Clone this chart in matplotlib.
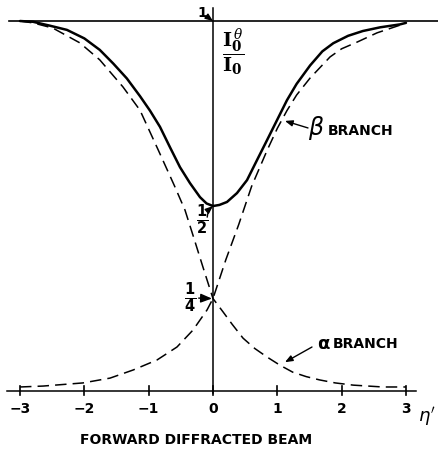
import matplotlib
matplotlib.use("Agg")
import matplotlib.pyplot as plt

# reduced angular deviation eta' and forward-diffracted intensity I0^theta / I0
# branch falling from left to right (upper left -> lower right)
falling_eta = [-3.0, -2.8, -2.49, -2.07, -1.76, -1.40, -1.135, -0.85, -0.6, -0.435,
               -0.3, -0.156, 0.0, 0.156, 0.3, 0.467, 0.65, 0.84, 1.04, 1.24, 1.45,
               1.66, 1.9, 2.18, 2.64, 3.0]
falling_val = [1.0, 0.995, 0.981, 0.941, 0.895, 0.822, 0.759, 0.651, 0.555, 0.489,
               0.415, 0.335, 0.25, 0.214, 0.18, 0.143, 0.115, 0.092, 0.07, 0.051, 0.039,
               0.030, 0.022, 0.016, 0.011, 0.011]

# branch rising from left to right (lower left -> upper right)
rising_eta = [-3.0, -2.64, -2.02, -1.60, -1.24, -0.87, -0.56, -0.31, -0.093, 0.0,
              0.2, 0.4, 0.6, 0.84, 1.0, 1.15, 1.3, 1.51, 1.82, 2.0, 2.24, 2.55,
              2.91, 3.0]
rising_val = [0.011, 0.0135, 0.022, 0.035, 0.057, 0.084, 0.119, 0.165, 0.219, 0.25,
              0.355, 0.45, 0.553, 0.65, 0.71, 0.758, 0.80, 0.846, 0.903, 0.925, 0.943,
              0.968, 0.989, 0.995]

# total forward intensity
total_eta = [-3.0, -2.8, -2.55, -2.27, -2.0, -1.76, -1.55, -1.34, -1.135, -0.98,
             -0.824, -0.669, -0.513, -0.358, -0.202, -0.1, 0.0, 0.1, 0.218, 0.373,
             0.529, 0.684, 0.84, 0.995, 1.15, 1.3, 1.51, 1.7, 1.87, 2.1, 2.33, 2.6,
             2.91, 3.0]
total_val = [1.0, 0.998, 0.988, 0.976, 0.953, 0.922, 0.885, 0.845, 0.797, 0.758,
             0.714, 0.659, 0.605, 0.562, 0.524, 0.507, 0.5, 0.503, 0.511, 0.535,
             0.570, 0.624, 0.678, 0.732, 0.786, 0.83, 0.880, 0.918, 0.940, 0.960,
             0.973, 0.983, 0.991, 0.995]

tick_pos = [-3, -2, -1, 0, 1, 2, 3]
tick_text = ["\u22123", "\u22122", "\u22121", "0", "1", "2", "3"]

fig = plt.figure(figsize=(4.38, 4.51), dpi=100)
ax = fig.add_axes([0, 0, 1, 1])
ax.set_xlim(-3.311, 3.498)
ax.set_ylim(-0.162, 1.0568)
ax.axis("off")

ink = "black"

# frame lines: base axis, unit line and the eta' = 0 axis
ax.plot([-3.2, 3.16], [0, 0], color=ink, lw=1.1)
ax.plot([-3.17, 3.5], [1, 1], color=ink, lw=1.2)
ax.plot([0, 0], [-0.005, 1.035], color=ink, lw=1.1)

for t, s in zip(tick_pos, tick_text):
    ax.plot([t, t], [-0.011, 0.013], color=ink, lw=1.2)
    ax.text(t, -0.049, s, ha="center", va="center", fontsize=10,
            fontweight="bold", color=ink)

ax.plot(falling_eta, falling_val, color=ink, lw=1.1, dashes=(7.5, 4))
ax.plot(rising_eta, rising_val, color=ink, lw=1.1, dashes=(7.5, 4))
ax.plot(total_eta, total_val, color=ink, lw=1.8, solid_capstyle="round",
        solid_joinstyle="round")

arrow = dict(arrowstyle="-|>,head_length=0.45,head_width=0.18", color=ink, lw=1.0,
             shrinkA=0, shrinkB=0)

# value marks on the vertical axis
ax.annotate("1", xy=(0, 1.0), xytext=(-0.171, 1.022), ha="center", va="center",
            fontsize=10, fontweight="bold", arrowprops=arrow)
ax.text(-0.171, 0.462, r"$\mathbf{\frac{1}{2}}$", ha="center", va="center", fontsize=15)
ax.annotate("", xy=(0, 0.5), xytext=(-0.09, 0.47),
            arrowprops=dict(arrow, connectionstyle="arc3,rad=-0.2"))
ax.annotate(r"$\mathbf{\frac{1}{4}}$", xy=(-0.016, 0.25), xytext=(-0.36, 0.252),
            ha="center", va="center", fontsize=15, arrowprops=arrow)

ax.text(0.31, 0.915, r"$\dfrac{\mathbf{I}_\mathbf{0}^{\,\theta}}{\mathbf{I}_\mathbf{0}}$",
        ha="center", va="center", fontsize=14, math_fontfamily="dejavuserif")

# branch labels
ax.annotate("", xy=(1.119, 0.730), xytext=(1.477, 0.711), arrowprops=arrow)
ax.text(1.60, 0.711, r"$\beta$", ha="center", va="center", fontsize=17)
ax.text(1.788, 0.704, "BRANCH", ha="left", va="center", fontsize=10, fontweight="bold")

ax.annotate("", xy=(1.119, 0.078), xytext=(1.539, 0.119), arrowprops=arrow)
ax.text(1.71, 0.127, "\u03b1", ha="center", va="center", fontsize=13, fontweight="bold")
ax.text(1.865, 0.127, "BRANCH", ha="left", va="center", fontsize=10, fontweight="bold")

ax.text(3.19, -0.070, r"$\eta'$", ha="left", va="center", fontsize=13)
ax.text(-0.264, -0.132, "FORWARD DIFFRACTED BEAM", ha="center", va="center",
        fontsize=10, fontweight="bold")

fig.savefig("out.png", dpi=100)
